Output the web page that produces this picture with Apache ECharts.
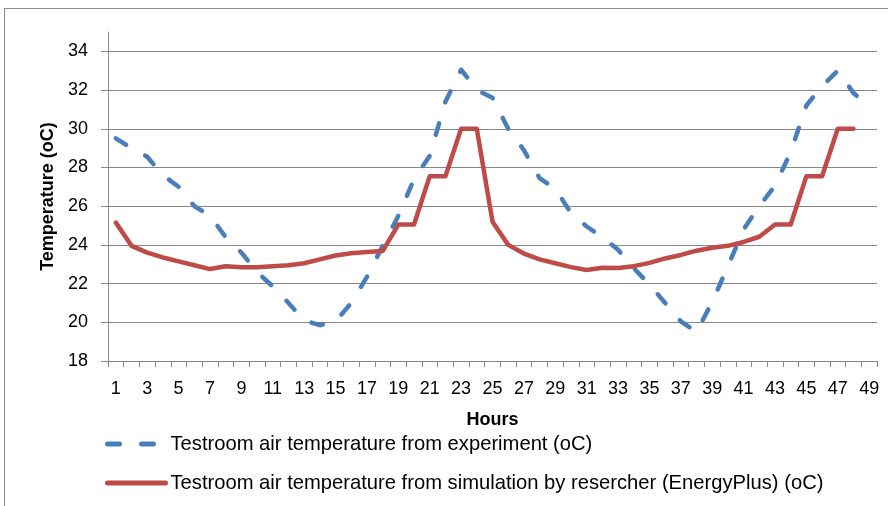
<!DOCTYPE html>
<html>
<head>
<meta charset="utf-8">
<script src="https://cdn.jsdelivr.net/npm/echarts@6/dist/echarts.min.js"></script>
<style>
  html, body { margin: 0; padding: 0; background: #fff; overflow: hidden; }
  #frame { position: absolute; left: 4px; top: 8px; width: 1000px; height: 1000px; border: 1px solid #8c8c8c; box-sizing: border-box; }
  #chart { position: absolute; left: 0; top: 0; width: 888px; height: 506px; }
</style>
</head>
<body>
<div id="frame"></div>
<div id="chart"></div>
<script>
// ---- data ----
const hours = [];
for (let h = 1; h <= 49; h++) hours.push(String(h));

const experiment = [
  29.5, 29.0, 28.55, 27.6, 27.0, 26.0, 25.5, 24.4, 23.6, 22.6,
  21.85, 21.0, 20.1, 19.85, 20.05, 21.0, 22.35, 23.95, 25.5, 27.4,
  28.6, 31.4, 33.05, 32.0, 31.6, 30.0, 28.9, 27.45, 26.9, 25.65,
  24.95, 24.4, 23.75, 22.8, 21.95, 21.0, 20.05, 19.5, 21.05, 22.9,
  24.8, 26.0, 27.05, 28.8, 31.2, 32.2, 33.0, 31.85, 31.15
];

const simulation = [
  25.15, 23.95, 23.6, 23.35, 23.15, 22.95, 22.75, 22.9, 22.85, 22.85,
  22.9, 22.95, 23.05, 23.25, 23.45, 23.57, 23.63, 23.68, 25.05, 25.05,
  27.55, 27.55, 30.0, 30.0, 25.2, 24.0, 23.55, 23.25, 23.05, 22.85,
  22.7, 22.82, 22.8, 22.9, 23.07, 23.3, 23.48, 23.7, 23.85, 23.95,
  24.15, 24.42, 25.05, 25.05, 27.55, 27.55, 30.0, 30.0, null
];

const yTicks = [18, 20, 22, 24, 26, 28, 30, 32, 34];

const seriesNames = [
  'Testroom air temperature from experiment (oC)',
  'Testroom air temperature from simulation by resercher (EnergyPlus) (oC)'
];
const xTitle = 'Hours';
const yTitle = 'Temperature (oC)';

// ---- chart ----
const FONT = 'Liberation Sans, Arial, sans-serif';
const GRID = '#868686';
const chart = echarts.init(document.getElementById('chart'), null, { renderer: 'canvas' });

chart.setOption({
  animation: false,
  backgroundColor: 'transparent',
  textStyle: { fontFamily: FONT },
  grid: { left: 108, right: 11, top: 32, bottom: 145, containLabel: false },
  legend: {
    orient: 'vertical',
    left: 100,
    top: 428,
    itemWidth: 58,
    itemHeight: 14,
    itemGap: 17,
    itemStyle: { opacity: 0, borderWidth: 0 },
    lineStyle: { width: 5, cap: 'round' },
    textStyle: { fontFamily: FONT, fontSize: 20.2, color: '#000', lineHeight: 22 },
    data: seriesNames
  },
  xAxis: {
    type: 'category',
    data: hours,
    boundaryGap: true,
    name: xTitle,
    nameLocation: 'middle',
    nameGap: 50,
    nameTextStyle: { fontFamily: FONT, fontSize: 18, fontWeight: 'bold', color: '#000' },
    axisLine: { lineStyle: { color: GRID, width: 1 } },
    axisTick: { show: true, length: 6, alignWithLabel: false, interval: 0, lineStyle: { color: GRID } },
    axisLabel: { interval: 1, margin: 19, fontFamily: FONT, fontSize: 18, color: '#000' },
    splitLine: { show: false }
  },
  yAxis: {
    type: 'value',
    min: 18,
    max: 35,
    interval: 2,
    name: yTitle,
    nameLocation: 'middle',
    nameGap: 48,
    nameTextStyle: { fontFamily: FONT, fontSize: 18, fontWeight: 'bold', color: '#000' },
    axisLine: { show: true, lineStyle: { color: GRID, width: 1 } },
    axisTick: { show: true, length: 7, lineStyle: { color: GRID }, customValues: yTicks },
    axisLabel: { margin: 20, fontFamily: FONT, fontSize: 18, color: '#000', customValues: yTicks },
    splitLine: { show: true, showMinLine: false, lineStyle: { color: GRID, width: 1 } }
  },
  series: [
    {
      name: seriesNames[0],
      type: 'line',
      data: experiment,
      symbol: 'none',
      color: '#4A7EBB',
      lineStyle: { color: '#4A7EBB', width: 4.5, type: [12, 22], cap: 'round', join: 'round' }
    },
    {
      name: seriesNames[1],
      type: 'line',
      data: simulation,
      symbol: 'none',
      connectNulls: false,
      color: '#BE4B48',
      lineStyle: { color: '#BE4B48', width: 4.5, type: 'solid', cap: 'round', join: 'round' }
    }
  ]
});
</script>
</body>
</html>
